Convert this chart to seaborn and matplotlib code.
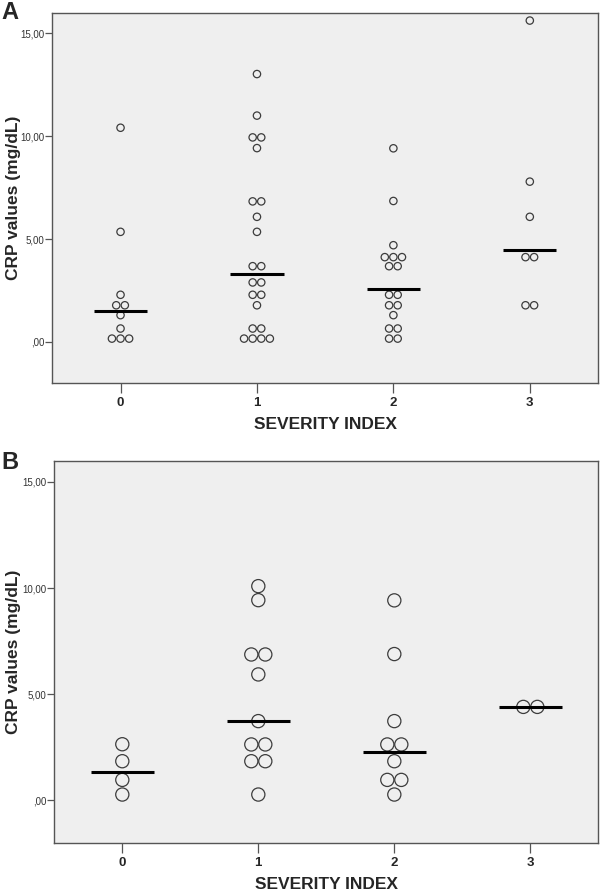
import matplotlib
matplotlib.use("Agg")
import matplotlib.pyplot as plt
import seaborn as sns
import pandas as pd

# ---------------- data ----------------
categories = ["0", "1", "2", "3"]
y_ticks = [0, 5, 10, 15]
y_tick_labels = [",00", "5,00", "10,00", "15,00"]

# Panel A
crp_a_0 = [10.41, 5.35, 2.29, 1.78, 1.78, 1.30, 0.65, 0.16, 0.16, 0.16]
crp_a_1 = [13.02, 11.00, 9.94, 9.94, 9.42, 6.83, 6.83, 6.08, 5.35, 3.68, 3.68,
           2.89, 2.89, 2.29, 2.29, 1.78, 0.65, 0.65, 0.16, 0.16, 0.16, 0.16]
crp_a_2 = [9.41, 6.85, 4.70, 4.12, 4.12, 4.12, 3.68, 3.68, 2.29, 2.29, 1.78, 1.78,
           1.30, 0.65, 0.65, 0.16, 0.16]
crp_a_3 = [15.62, 7.79, 6.08, 4.12, 4.12, 1.78, 1.78]
median_a = [1.48, 3.28, 2.56, 4.48]

# Panel B
crp_b_0 = [2.64, 1.84, 0.96, 0.27]
crp_b_1 = [10.09, 9.43, 6.87, 6.87, 5.93, 3.73, 2.63, 2.63, 1.84, 1.84, 0.27]
crp_b_2 = [9.42, 6.89, 3.73, 2.63, 2.63, 1.84, 0.96, 0.96, 0.27]
crp_b_3 = [4.40, 4.40]
median_b = [1.35, 3.73, 2.26, 4.40]

x_label = "SEVERITY INDEX"
y_label = "CRP values (mg/dL)"


def make_df(groups, step):
    """Dot-plot layout: equal values are spread symmetrically side by side."""
    rows = []
    for i, (cat, vals) in enumerate(zip(categories, groups)):
        counts = {}
        for v in vals:
            counts[v] = counts.get(v, 0) + 1
        seen = {}
        for v in vals:
            k = seen.get(v, 0)
            seen[v] = k + 1
            off = (k - (counts[v] - 1) / 2.0) * step
            rows.append({"severity": cat, "pos": i + off, "crp": v})
    return pd.DataFrame(rows)


df_a = make_df([crp_a_0, crp_a_1, crp_a_2, crp_a_3], 0.063)
df_b = make_df([crp_b_0, crp_b_1, crp_b_2, crp_b_3], 0.103)

# ---------------- style ----------------
sns.set_style("white")
plt.rcParams["font.family"] = ["Liberation Sans", "DejaVu Sans"]

BG = "#efefef"
EDGE = "#3c3c3c"
FRAME = "#555555"

fig = plt.figure(figsize=(6.0, 8.91), dpi=100)
ax_a = fig.add_axes([0.0872, 0.5701, 0.9095, 0.4156])
ax_b = fig.add_axes([0.0905, 0.0542, 0.9067, 0.4287])


def draw(ax, df, medians, msize, half, ylab_x):
    ax.set_facecolor(BG)
    sns.scatterplot(data=df, x="pos", y="crp", ax=ax, s=msize,
                    facecolor="none", edgecolor=EDGE, linewidth=0.9,
                    marker="o", legend=False, zorder=3)
    for i, m in enumerate(medians):
        ax.hlines(m, i - half, i + half, color="black", linewidth=2.2, zorder=5)
    ax.set_xlim(-0.5, 3.5)
    ax.set_ylim(-2, 16)
    ax.set_yticks(y_ticks)
    ax.set_yticklabels(y_tick_labels, fontsize=7, color="#333333")
    ax.set_xticks(range(len(categories)))
    ax.set_xticklabels(categories, fontsize=9.5, fontweight="bold")
    ax.tick_params(axis="x", length=7, width=0.9, color=FRAME, pad=3, bottom=True)
    ax.tick_params(axis="y", length=5, width=0.9, color=FRAME, pad=0.5, left=True)
    for s in ax.spines.values():
        s.set_visible(True)
        s.set_color(FRAME)
        s.set_linewidth(1.0)
    ax.set_xlabel(x_label, fontsize=12.5, fontweight="bold", labelpad=6)
    ax.set_ylabel(y_label, fontsize=12.5, fontweight="bold")
    ax.yaxis.set_label_coords(ylab_x, 0.5)


draw(ax_a, df_a, median_a, 28, 0.195, -0.058)
draw(ax_b, df_b, median_b, 90, 0.23, -0.062)

fig.text(0.002, 0.999, "A", fontsize=17, fontweight="bold", va="top", ha="left")
fig.text(0.002, 0.4935, "B", fontsize=17, fontweight="bold", va="top", ha="left")

fig.savefig("out.png", dpi=100)
